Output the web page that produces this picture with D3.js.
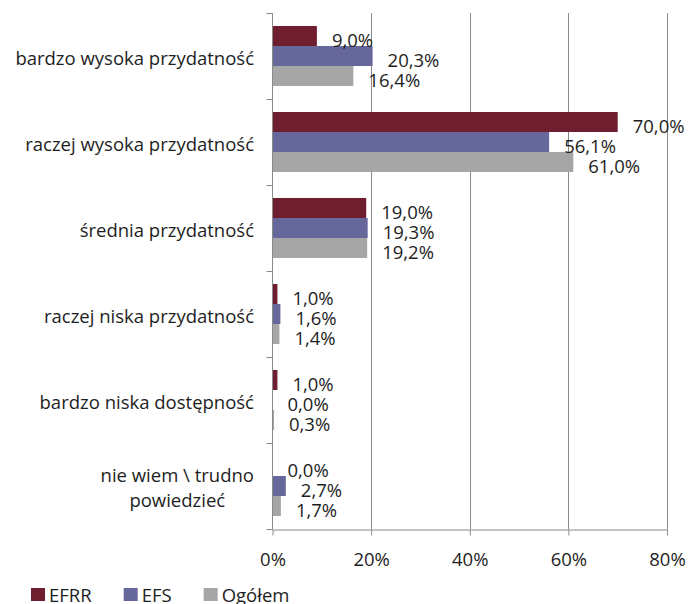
<!DOCTYPE html>
<html>
<head>
<meta charset="utf-8">
<script src="https://cdn.jsdelivr.net/npm/d3@7"></script>
<style>
  html, body { margin: 0; padding: 0; background: #fff; }
  svg { display: block; font-family: "Open Sans", sans-serif; }
</style>
</head>
<body>
<div id="chart"></div>
<script>
// categories (top to bottom), "\n" marks a line break in the label
const categories = [
	"bardzo wysoka przydatność",
	"raczej wysoka przydatność",
	"średnia przydatność",
	"raczej niska przydatność",
	"bardzo niska dostępność",
	"nie wiem \\ trudno\npowiedzieć"
];
const seriesNames = ["EFRR", "EFS", "Ogółem"];
const efrr = [9.0, 70.0, 19.0, 1.0, 1.0, 0.0];
const efs = [20.3, 56.1, 19.3, 1.6, 0.0, 2.7];
const ogolem = [16.4, 61.0, 19.2, 1.4, 0.3, 1.7];
const colors = ["#6e1e2f", "#66679b", "#a6a6a6"];
const tickValues = [0, 20, 40, 60, 80];

const W = 689, H = 604;
const fontSize = 18.5;
const plot = {left: 272.5, right: 667, top: 13, bottom: 529};

var svg = d3.select("#chart").append("svg")
	.attr("width", W)
	.attr("height", H);

var x = d3.scaleLinear()
	.domain([0, 80])
	.range([plot.left, plot.right]);

var y = d3.scaleBand()
	.domain(categories)
	.range([plot.top, plot.bottom])
	.paddingInner(0.302)
	.paddingOuter(0.151);

var ys = d3.scaleBand()
	.domain(seriesNames)
	.range([0, y.bandwidth()]);

var values = [efrr, efs, ogolem];
var rows = [];
categories.forEach((c, i) => {
	seriesNames.forEach((s, j) => {
		rows.push({cat: c, series: s, value: values[j][i], color: colors[j]});
	});
});

// vertical gridlines
svg.append("g")
	.selectAll("line")
	.data(tickValues.filter(d => d > 0))
	.enter().append("line")
	.attr("x1", d => Math.round(x(d)) + 0.5)
	.attr("x2", d => Math.round(x(d)) + 0.5)
	.attr("y1", plot.top)
	.attr("y2", plot.bottom)
	.attr("stroke", "#898989")
	.attr("stroke-width", 1);

// bars
svg.append("g")
	.selectAll("rect")
	.data(rows)
	.enter().append("rect")
	.attr("x", x(0))
	.attr("y", d => y(d.cat) + ys(d.series))
	.attr("width", d => x(d.value) - x(0))
	.attr("height", ys.bandwidth())
	.attr("fill", d => d.color);

// value labels
svg.append("g")
	.selectAll("text")
	.data(rows)
	.enter().append("text")
	.attr("x", d => x(d.value) + 15)
	.attr("y", d => y(d.cat) + ys(d.series) + ys.bandwidth() / 2)
	.attr("dy", "0.57em")
	.attr("font-size", fontSize)
	.attr("fill", "#1e1e1e")
	.text(d => d3.format(".1f")(d.value).replace(".", ",") + "%");

// value axis
var xAxis = d3.axisBottom(x)
	.tickValues(tickValues)
	.tickFormat(d => d + "%")
	.tickSize(6)
	.tickSizeOuter(0)
	.tickPadding(17);

var gx = svg.append("g")
	.attr("transform", `translate(0,${plot.bottom + 0.5})`)
	.call(xAxis);
gx.select(".domain").attr("stroke", "#898989");
gx.selectAll(".tick line").attr("stroke", "#898989");
gx.selectAll(".tick text")
	.attr("font-size", fontSize)
	.attr("font-family", "Open Sans")
	.attr("fill", "#1e1e1e");

// category axis line and boundary ticks
var gap = (y.step() - y.bandwidth()) / 2;
var bounds = categories.map(c => y(c) - gap).concat([y(categories[categories.length - 1]) + y.bandwidth() + gap]);
var gy = svg.append("g");
gy.append("line")
	.attr("x1", plot.left).attr("x2", plot.left)
	.attr("y1", plot.top).attr("y2", plot.bottom + 0.5)
	.attr("stroke", "#898989");
gy.selectAll(".ctick")
	.data(bounds)
	.enter().append("line")
	.attr("class", "ctick")
	.attr("x1", plot.left - 6).attr("x2", plot.left)
	.attr("y1", d => Math.round(d) + 0.5).attr("y2", d => Math.round(d) + 0.5)
	.attr("stroke", "#898989");

// category labels
var labelRight = 254;
var lineGap = 25;
categories.forEach(c => {
	var lines = c.split("\n");
	var cy = y(c) + y.bandwidth() / 2;
	var t = svg.append("text")
		.attr("font-size", fontSize)
		.attr("fill", "#1e1e1e");
	lines.forEach((l, i) => {
		t.append("tspan")
			.attr("y", cy + 8.5 + (i - (lines.length - 1) / 2) * lineGap)
			.text(l);
	});
	if (lines.length === 1) {
		t.attr("text-anchor", "end");
		t.selectAll("tspan").attr("x", labelRight);
	} else {
		var maxW = 0;
		t.selectAll("tspan").each(function () {
			maxW = Math.max(maxW, this.getComputedTextLength());
		});
		t.attr("text-anchor", "middle");
		t.selectAll("tspan").attr("x", labelRight - maxW / 2);
	}
});

// legend
var lx = 31;
seriesNames.forEach((s, i) => {
	svg.append("rect")
		.attr("x", lx)
		.attr("y", 588)
		.attr("width", 14)
		.attr("height", 13)
		.attr("fill", colors[i]);
	var t = svg.append("text")
		.attr("x", lx + 18)
		.attr("y", 601.5)
		.attr("font-size", fontSize)
		.attr("fill", "#1e1e1e")
		.text(s);
	lx += 18 + t.node().getComputedTextLength() + 32;
});
</script>
</body>
</html>
